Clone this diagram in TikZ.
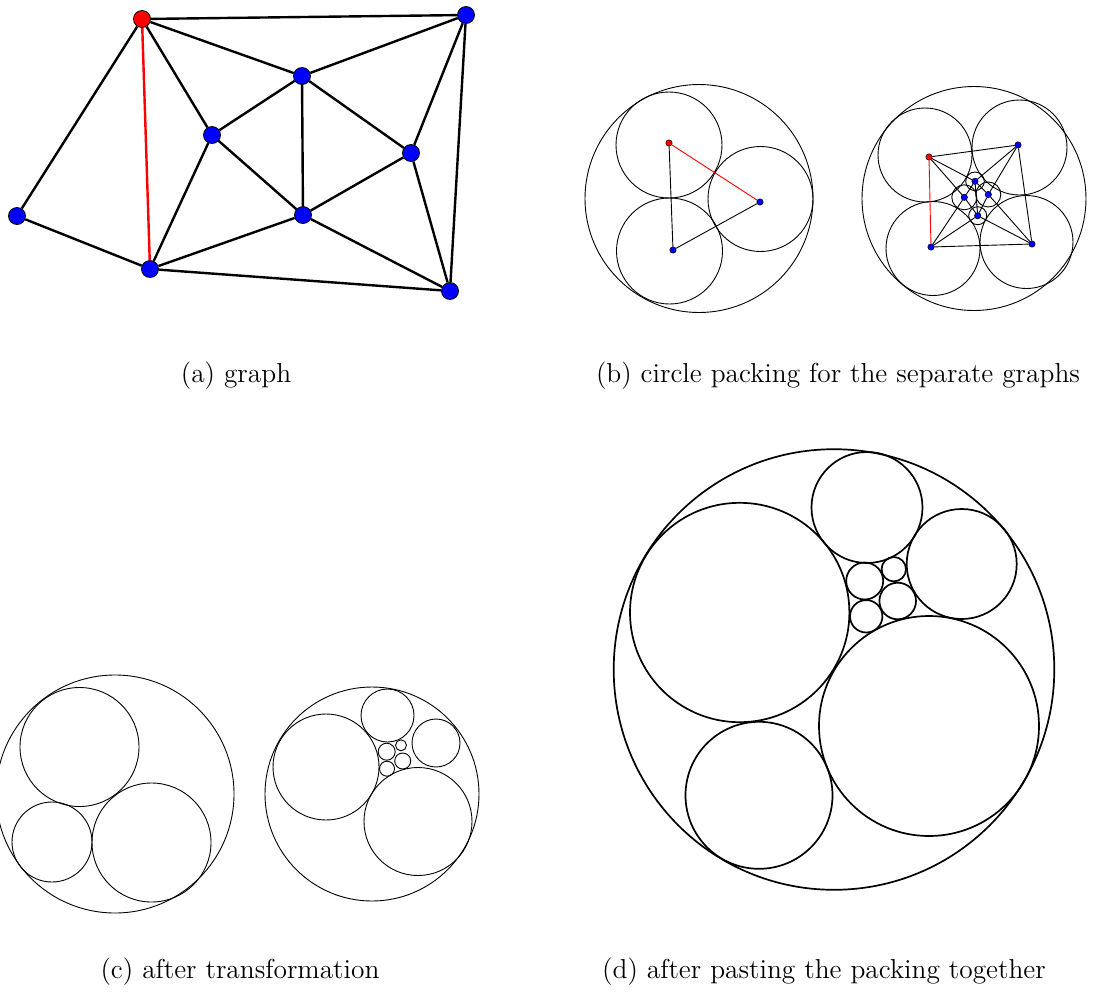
\documentclass[tikz,border=0pt]{standalone}
\usepackage{tikz}

\begin{document}
\begin{tikzpicture}[x=0.5pt, y=-0.5pt,
    vtx/.style={circle, draw=black, fill=blue, inner sep=0pt, minimum size=8.5pt, line width=0.4pt},
    rootvtx/.style={vtx, fill=red},
    dot/.style={circle, draw=black, fill=blue, inner sep=0pt, minimum size=3.2pt, line width=0.25pt},
    rootdot/.style={dot, fill=red},
    edge/.style={line width=1.2pt},
    thinedge/.style={line width=0.45pt},
    disc/.style={line width=0.45pt},
    bigdisc/.style={line width=0.85pt},
    caption/.style={font=\fontsize{13.7}{16}\selectfont}
  ]
    \useasboundingbox (0,0) rectangle (1094,992);

    % (a) the graph
    \node[rootvtx] (r) at (142,19) {};
    \node[vtx] (tr) at (466,15) {};
    \node[vtx] (m1) at (302,76) {};
    \node[vtx] (c) at (212,135) {};
    \node[vtx] (rr) at (411,153) {};
    \node[vtx] (m2) at (303,215) {};
    \node[vtx] (l) at (17,216) {};
    \node[vtx] (b) at (150,269) {};
    \node[vtx] (br) at (450,291) {};
    \foreach \u/\v in {r/tr, r/m1, r/c, r/l, l/b, c/m1, c/b, c/m2, m1/tr, m1/m2,
                       m1/rr, rr/tr, rr/m2, rr/br, tr/br, m2/b, m2/br, b/br}
      \draw[edge] (\u) -- (\v);
    \draw[edge, red] (r) -- (b);
    \node[caption] (capa) at (236,376) {(a)\ graph};

    % (b) packings of the two separate graphs
    \draw[disc] (699,198.5) circle (114);
    \draw[disc] (669,145) circle (53);
    \draw[disc] (760.5,199) circle (52.5);
    \draw[disc] (669.5,251) circle (53);
    \node[rootdot] (p1) at (669,143) {};
    \node[dot] (p2) at (760,202) {};
    \node[dot] (p3) at (673,250) {};
    \draw[thinedge, red] (p1) -- (p2);
    \draw[thinedge] (p1) -- (p3);
    \draw[thinedge] (p3) -- (p2);

    \draw[disc] (974,198.5) circle (112);
    \draw[disc] (925,155) circle (47);
    \draw[disc] (1019.5,147.5) circle (47.5);
    \draw[disc] (933,248.5) circle (47);
    \draw[disc] (1026.5,242) circle (46.5);
    \draw[disc] (975,181.3) circle (9.3);
    \draw[disc] (964.3,197.3) circle (12.5);
    \draw[disc] (988.3,194.5) circle (12.5);
    \draw[disc] (977.7,215.7) circle (9);
    \node[rootdot] (q1) at (929,157) {};
    \node[dot] (q2) at (1018,145) {};
    \node[dot] (q3) at (1032,244) {};
    \node[dot] (q4) at (931,247) {};
    \node[dot] (qt) at (975,181.3) {};
    \node[dot] (ql) at (964.3,197.3) {};
    \node[dot] (qr) at (988.3,194.5) {};
    \node[dot] (qb) at (977.7,215.7) {};
    \foreach \u/\v in {q1/q2, q2/q3, q3/q4, q1/qt, q1/ql, q2/qt, q2/qr, q3/qr, q3/qb,
                       q4/qb, q4/ql, qt/ql, qt/qr, qt/qb, ql/qb, qr/qb}
      \draw[thinedge] (\u) -- (\v);
    \draw[thinedge, red] (q1) -- (q4);
    \node[caption] (capb) at (838,376) {(b)\ circle packing for the separate graphs};

    % (c) after the transformation
    \draw[disc] (115,794) circle (119);
    \draw[disc] (79.5,747) circle (59.5);
    \draw[disc] (52,842) circle (40);
    \draw[disc] (151.5,842.5) circle (59.5);

    \draw[disc] (372,794) circle (107);
    \draw[disc] (326,767) circle (53);
    \draw[disc] (387.5,715.5) circle (26.5);
    \draw[disc] (436,743) circle (24);
    \draw[disc] (418,821.5) circle (54);
    \draw[disc] (386.7,751.7) circle (8.5);
    \draw[disc] (401,745.3) circle (5.5);
    \draw[disc] (402.7,761) circle (8);
    \draw[disc] (387,768.7) circle (7.5);
    \node[caption] (capc) at (240,972) {(c)\ after transformation};

    % (d) the pasted packing
    \draw[bigdisc] (834,669.5) circle (220.3);
    \draw[bigdisc] (739.7,612.5) circle (109.7);
    \draw[bigdisc] (867,507.5) circle (55.5);
    \draw[bigdisc] (961.7,564) circle (55);
    \draw[bigdisc] (929,726) circle (110);
    \draw[bigdisc] (759,795.3) circle (73.5);
    \draw[bigdisc] (864.7,581) circle (18.5);
    \draw[bigdisc] (893.8,569.2) circle (12.2);
    \draw[bigdisc] (897.7,601) circle (18.3);
    \draw[bigdisc] (866.2,616.3) circle (16.2);
    \node[caption] (capd) at (824,972) {(d)\ after pasting the packing together};
\end{tikzpicture}
\end{document}
